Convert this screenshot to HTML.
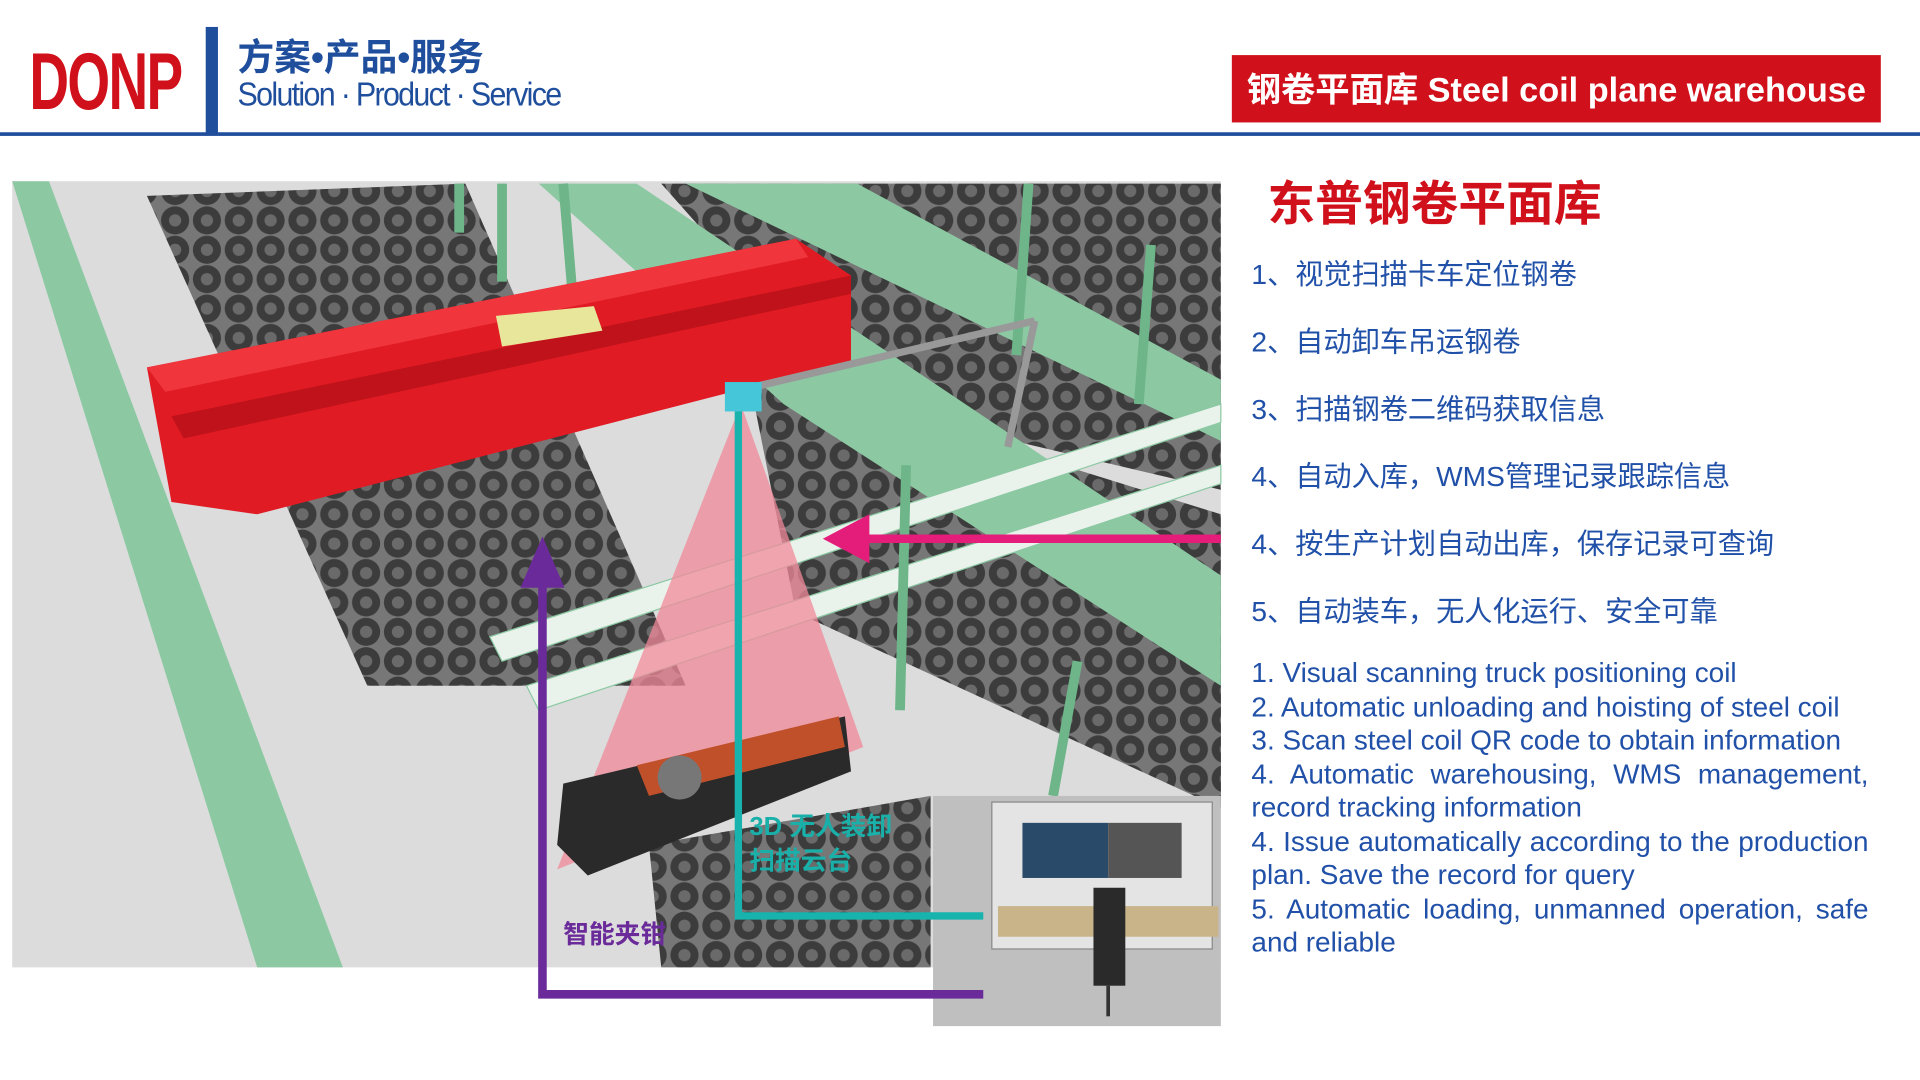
<!DOCTYPE html>
<html><head><meta charset="utf-8"><style>
html,body{margin:0;padding:0;width:1920px;height:1080px;overflow:hidden;background:#fff}
#w{position:absolute;left:0;top:0;width:1568px;height:882px;transform:scale(1.22449);transform-origin:0 0;font-family:"Liberation Sans","Noto Sans CJK SC",sans-serif}
.a{position:absolute;white-space:nowrap}
.cn{color:#2050a8;font-size:23px;left:1022px}
.en{color:#2050a8;font-size:22.8px;left:1022px;width:504px;line-height:27.5px}
.en div{white-space:nowrap;height:27.5px}
.en .j{text-align:justify;text-align-last:justify;white-space:normal}
</style></head><body><div id="w">
<div class="a" style="left:24px;top:28px;font-size:66px;font-weight:bold;color:#d0101a;letter-spacing:-2px;transform:scaleX(0.68);transform-origin:0 0">DONP</div>
<div class="a" style="left:168px;top:22px;width:10px;height:87px;background:#1f4e9c"></div>
<div class="a" style="left:194px;top:22px;font-size:30px;font-weight:bold;color:#1f4e9c">方案•产品•服务</div>
<div class="a" style="left:194px;top:62px;font-size:27px;color:#1f4e9c;letter-spacing:-1.5px;transform:scaleX(0.92);transform-origin:0 0">Solution · Product · Service</div>
<div class="a" style="left:0;top:108px;width:1568px;height:3px;background:#1f4e9c"></div>
<div class="a" style="left:1006px;top:45px;width:530px;height:55px;background:#d0101a;color:#fff;font-size:28px;font-weight:bold;line-height:57px;text-align:center">钢卷平面库 Steel coil plane warehouse</div>

<svg class="a" style="left:0;top:0" width="1568" height="882" viewBox="0 0 1568 882">
<defs>
<pattern id="c" width="26" height="24" patternUnits="userSpaceOnUse"><rect width="26" height="24" fill="#777"/><circle cx="13" cy="12" r="11.5" fill="#3c3c3c"/><circle cx="13" cy="12" r="5" fill="#6a6a6a"/></pattern>
</defs>
<rect x="10" y="148" width="987" height="642" fill="#dcdcdc"/>
<polygon points="10,148 40,148 280,790 210,790" fill="#8cc9a3"/>
<polygon points="120,160 380,150 560,560 300,560" fill="url(#c)"/>
<polygon points="540,150 997,150 997,400 700,330" fill="url(#c)"/>
<polygon points="610,300 997,420 997,660 650,500" fill="url(#c)"/>
<polygon points="800,470 997,520 997,650 820,560" fill="url(#c)"/>
<polygon points="530,690 760,650 760,790 540,790" fill="url(#c)"/>
<polygon points="440,150 520,150 997,470 997,560 640,330" fill="#8cc9a3"/>
<polygon points="560,150 700,150 997,310 997,360" fill="#8cc9a3"/>
<polygon points="400,520 997,330 997,345 410,540" fill="#eaf2ec" stroke="#8cc9a3"/>
<polygon points="430,560 997,380 997,395 440,580" fill="#eaf2ec" stroke="#8cc9a3"/>
<g stroke="#6fb58a" stroke-width="8"><line x1="375" y1="150" x2="375" y2="190"/><line x1="410" y1="150" x2="410" y2="230"/><line x1="460" y1="150" x2="470" y2="270"/><line x1="740" y1="380" x2="735" y2="580"/><line x1="840" y1="150" x2="830" y2="290"/><line x1="940" y1="200" x2="930" y2="330"/><line x1="880" y1="540" x2="860" y2="650"/></g>
<polygon points="120,300 650,195 695,225 695,295 210,420 140,410" fill="#e01b24"/>
<polygon points="120,300 650,195 660,210 135,320" fill="#f0353d"/>
<polygon points="140,340 695,225 695,240 150,358" fill="#c0121a"/>
<polygon points="405,258 485,250 492,270 410,283" fill="#e8e69a"/>
<line x1="620" y1="315" x2="845" y2="262" stroke="#999" stroke-width="6"/>
<line x1="845" y1="262" x2="823" y2="365" stroke="#999" stroke-width="6"/>
<polygon points="605,330 455,710 705,610" fill="#f08a9a" opacity="0.75"/>
<rect x="592" y="312" width="30" height="24" fill="#45c6d9"/>
<polygon points="460,640 690,585 695,630 480,715 455,690" fill="#2a2a2a"/>
<polygon points="520,625 685,585 690,610 530,650" fill="#c0502a"/>
<circle cx="555" cy="635" r="18" fill="#777"/>
<rect x="762" y="650" width="235" height="188" fill="#bfbfbf"/>
<rect x="810" y="655" width="180" height="120" fill="#e4e4e4" stroke="#888"/>
<rect x="835" y="672" width="70" height="45" fill="#2a4a6a"/><rect x="905" y="672" width="60" height="45" fill="#555"/>
<rect x="815" y="740" width="180" height="25" fill="#c9b48a"/>
<rect x="893" y="725" width="26" height="80" fill="#2a2a2a"/>
<line x1="905" y1="805" x2="905" y2="830" stroke="#333" stroke-width="3"/>
<polyline points="603,336 603,748 803,748" fill="none" stroke="#18b3ad" stroke-width="6"/>
<polyline points="803,812 443,812 443,470" fill="none" stroke="#6a2a9a" stroke-width="7"/>
<polygon points="443,438 425,480 461,480" fill="#6a2a9a"/>
<line x1="997" y1="440" x2="700" y2="440" stroke="#e41c7a" stroke-width="7"/>
<polygon points="672,440 710,420 710,460" fill="#e41c7a"/>
<text x="612" y="682" font-size="21" font-weight="bold" fill="#19b0aa" font-family="Liberation Sans,Noto Sans CJK SC,sans-serif">3D 无人装卸</text>
<text x="612" y="710" font-size="21" font-weight="bold" fill="#19b0aa" font-family="Liberation Sans,Noto Sans CJK SC,sans-serif">扫描云台</text>
<text x="460" y="770" font-size="21" font-weight="bold" fill="#6a2a9a" font-family="Liberation Sans,Noto Sans CJK SC,sans-serif">智能夹钳</text>
</svg>

<div class="a" style="left:1035px;top:136px;font-size:39px;font-weight:bold;color:#d0101a">东普钢卷平面库</div>
<div class="a cn" style="top:205px">1、视觉扫描卡车定位钢卷</div>
<div class="a cn" style="top:260px">2、自动卸车吊运钢卷</div>
<div class="a cn" style="top:315px">3、扫描钢卷二维码获取信息</div>
<div class="a cn" style="top:370px">4、自动入库，WMS管理记录跟踪信息</div>
<div class="a cn" style="top:425px">4、按生产计划自动出库，保存记录可查询</div>
<div class="a cn" style="top:480px">5、自动装车，无人化运行、安全可靠</div>
<div class="a en" style="top:536px;white-space:normal">
<div>1. Visual scanning truck positioning coil</div>
<div>2. Automatic unloading and hoisting of steel coil</div>
<div>3. Scan steel coil QR code to obtain information</div>
<div class="j">4. Automatic warehousing, WMS management,</div>
<div>record tracking information</div>
<div class="j">4. Issue automatically according to the production</div>
<div>plan. Save the record for query</div>
<div class="j">5. Automatic loading, unmanned operation, safe</div>
<div>and reliable</div>
</div>
</div></body></html>
